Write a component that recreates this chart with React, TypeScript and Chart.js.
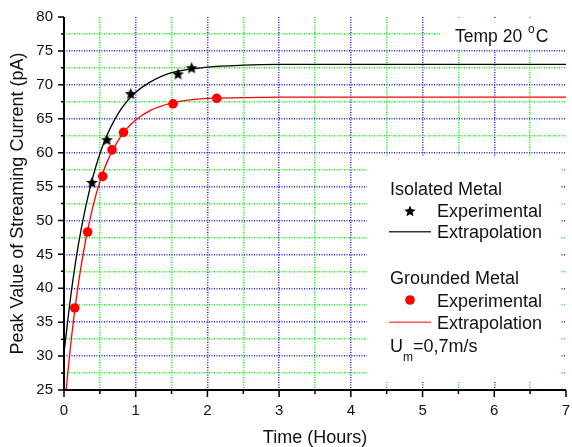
import React, { useEffect, useRef } from "react";
import { Chart, registerables } from "chart.js";

Chart.register(...registerables);

// ---- data ----
const isoTime = [0.39, 0.6, 0.93, 1.59, 1.78];
const isoCurrent = [55.6, 61.9, 68.7, 71.6, 72.5];

const gndTime = [0.15, 0.33, 0.54, 0.67, 0.83, 1.52, 2.13];
const gndCurrent = [37.1, 48.3, 56.5, 60.4, 63.0, 67.2, 68.0];

const isoFitTime = [0, 0.1, 0.2, 0.3, 0.4, 0.5, 0.6, 0.8, 1.0, 1.2, 1.5, 2.0, 2.5, 3, 4, 5, 6, 7];
const isoFitCurrent = [30.5, 39.3, 46.4, 51.9, 56.3, 59.8, 62.6, 66.5, 68.9, 70.4, 71.8, 72.6, 72.9, 73.0, 73.0, 73.0, 73.0, 73.0];

const gndFitTime = [0.03, 0.1, 0.2, 0.3, 0.4, 0.5, 0.6, 0.8, 1.0, 1.2, 1.5, 2.0, 2.5, 3, 4, 5, 6, 7];
const gndFitCurrent = [25.0, 32.3, 40.6, 47.0, 51.9, 55.7, 58.6, 62.5, 64.8, 66.2, 67.3, 68.0, 68.1, 68.2, 68.2, 68.2, 68.2, 68.2];

const xTicks = [0, 0.5, 1, 1.5, 2, 2.5, 3, 3.5, 4, 4.5, 5, 5.5, 6, 6.5, 7];
const yTicks = [25, 27.5, 30, 32.5, 35, 37.5, 40, 42.5, 45, 47.5, 50, 52.5, 55, 57.5, 60, 62.5, 65, 67.5, 70, 72.5, 75, 77.5, 80];

const xTitle = "Time (Hours)";
const yTitle = "Peak Value of Streaming Current (pA)";

// ---- styling ----
const FONT = '"Liberation Sans", Arial, sans-serif';
const TEXT = "#111";
const MAJOR = "#2020ff";
const MINOR = "#00ff00";

function drawStar(ctx: CanvasRenderingContext2D, cx: number, cy: number, r: number) {
  ctx.beginPath();
  for (let i = 0; i < 10; i++) {
    const rad = i % 2 === 0 ? r : r * 0.45;
    const a = -Math.PI / 2 + (i * Math.PI) / 5;
    const px = cx + rad * Math.cos(a);
    const py = cy + rad * Math.sin(a);
    if (i === 0) ctx.moveTo(px, py);
    else ctx.lineTo(px, py);
  }
  ctx.closePath();
  ctx.fill();
}

function makeStar(r: number, color: string): HTMLCanvasElement {
  const size = Math.ceil(r * 2 + 2);
  const c = document.createElement("canvas");
  c.width = size;
  c.height = size;
  const g = c.getContext("2d")!;
  g.fillStyle = color;
  drawStar(g, size / 2, size / 2 + 0.5, r);
  return c;
}

function gridColor(v: number, edgeA: number, edgeB: number, major: number) {
  if (v === edgeA || v === edgeB) return "rgba(0,0,0,0)";
  const r = v / major;
  return Math.abs(r - Math.round(r)) < 1e-6 ? MAJOR : MINOR;
}

const overlay = {
  id: "overlay",
  beforeDatasetsDraw(chart: any) {
    const ctx = chart.ctx as CanvasRenderingContext2D;
    ctx.save();
    ctx.fillStyle = "#ffffff";
    ctx.fillRect(440, 18, 125, 32);
    ctx.fillRect(367, 157, 194, 225);
    ctx.restore();
  },
  afterDraw(chart: any) {
    const ctx = chart.ctx as CanvasRenderingContext2D;
    const { x, y } = chart.scales;
    const area = chart.chartArea;
    ctx.save();
    // axes
    ctx.strokeStyle = "#000";
    ctx.lineWidth = 2;
    ctx.beginPath();
    ctx.moveTo(area.left, area.top);
    ctx.lineTo(area.left, area.bottom);
    ctx.lineTo(area.right, area.bottom);
    ctx.stroke();
    ctx.lineWidth = 1.5;
    ctx.beginPath();
    for (const v of xTicks) {
      const px = x.getPixelForValue(v);
      const len = Number.isInteger(v) ? 7 : 4;
      ctx.moveTo(px, area.bottom);
      ctx.lineTo(px, area.bottom + len);
    }
    for (const v of yTicks) {
      const py = y.getPixelForValue(v);
      const len = v % 5 === 0 ? 6 : 3;
      ctx.moveTo(area.left - len, py);
      ctx.lineTo(area.left, py);
    }
    ctx.stroke();

    // annotations / legend
    ctx.fillStyle = TEXT;
    ctx.textBaseline = "alphabetic";
    ctx.textAlign = "left";
    ctx.font = `17.5px ${FONT}`;
    ctx.fillText("Temp 20", 455, 42);
    let tx = 455 + ctx.measureText("Temp 20").width + 6;
    ctx.font = `12px ${FONT}`;
    ctx.fillText("o", tx, 33);
    tx += ctx.measureText("o").width + 1;
    ctx.font = `17.5px ${FONT}`;
    ctx.fillText("C", tx, 42);

    ctx.font = `18px ${FONT}`;
    ctx.fillText("Isolated Metal", 390, 195);
    ctx.fillText("Experimental", 437, 217);
    ctx.fillText("Extrapolation", 437, 238);
    ctx.fillText("Grounded Metal", 390, 284);
    ctx.fillText("Experimental", 437, 306.5);
    ctx.fillText("Extrapolation", 437, 329);
    ctx.fillText("U", 390, 352);
    const uW = ctx.measureText("U").width;
    ctx.font = `12px ${FONT}`;
    ctx.fillText("m", 390 + uW, 361);
    const mW = ctx.measureText("m").width;
    ctx.font = `18px ${FONT}`;
    ctx.fillText("=0,7m/s", 390 + uW + mW, 352);

    // legend symbols
    ctx.fillStyle = "#000";
    drawStar(ctx, 410, 211.5, 6);
    ctx.strokeStyle = "#333";
    ctx.lineWidth = 1.5;
    ctx.beginPath();
    ctx.moveTo(389, 231.7);
    ctx.lineTo(431, 231.7);
    ctx.stroke();
    ctx.fillStyle = "#ff0000";
    ctx.beginPath();
    ctx.arc(410, 300, 4.8, 0, Math.PI * 2);
    ctx.fill();
    ctx.strokeStyle = "#ff5555";
    ctx.beginPath();
    ctx.moveTo(389, 322.3);
    ctx.lineTo(431, 322.3);
    ctx.stroke();
    ctx.restore();
  },
};

export default function App() {
  const ref = useRef<HTMLCanvasElement | null>(null);

  useEffect(() => {
    if (!ref.current) return;
    const star = makeStar(6.2, "#000");
    const toXY = (xs: number[], ys: number[]) => xs.map((v, i) => ({ x: v, y: ys[i] }));

    const chart = new Chart(ref.current, {
      type: "scatter",
      data: {
        datasets: [
          {
            label: "Isolated Metal Experimental",
            data: toXY(isoTime, isoCurrent),
            pointStyle: star as any,
            pointRadius: 6,
            backgroundColor: "#000",
            borderWidth: 0,
            showLine: false,
          },
          {
            label: "Grounded Metal Experimental",
            data: toXY(gndTime, gndCurrent),
            pointStyle: "circle",
            pointRadius: 4.8,
            backgroundColor: "#ff0000",
            borderColor: "#ff0000",
            borderWidth: 0,
            showLine: false,
          },
          {
            label: "Isolated Metal Extrapolation",
            data: toXY(isoFitTime, isoFitCurrent),
            showLine: true,
            pointRadius: 0,
            borderColor: "#000",
            borderWidth: 1.3,
            cubicInterpolationMode: "monotone",
          },
          {
            label: "Grounded Metal Extrapolation",
            data: toXY(gndFitTime, gndFitCurrent),
            showLine: true,
            pointRadius: 0,
            borderColor: "#ff0000",
            borderWidth: 1.3,
            cubicInterpolationMode: "monotone",
          },
        ],
      },
      options: {
        responsive: false,
        animation: false,
        events: [],
        layout: { padding: { top: 17, right: 4, left: 0, bottom: 0 } },
        plugins: { legend: { display: false }, tooltip: { enabled: false } },
        scales: {
          x: {
            type: "linear",
            min: 0,
            max: 7,
            afterBuildTicks: (s: any) => {
              s.ticks = xTicks.map((v) => ({ value: v }));
            },
            afterFit: (s: any) => {
              s.height = 57;
              s.paddingRight = 0;
              s.paddingLeft = 0;
            },
            ticks: {
              autoSkip: false,
              maxRotation: 0,
              padding: 12,
              color: TEXT,
              font: { family: FONT, size: 15 },
              callback: (v: any) => (Number.isInteger(v) ? String(v) : ""),
            },
            grid: {
              drawTicks: false,
              lineWidth: 1.5,
              color: (c: any) => gridColor(c.tick ? c.tick.value : -1, 0, 7, 1),
            },
            border: { display: false, dash: [1, 1.5] },
            title: {
              display: true,
              text: xTitle,
              color: TEXT,
              font: { family: FONT, size: 18 },
              padding: { top: 0, bottom: -2 },
            },
          },
          y: {
            type: "linear",
            min: 25,
            max: 80,
            afterBuildTicks: (s: any) => {
              s.ticks = yTicks.map((v) => ({ value: v }));
            },
            afterFit: (s: any) => {
              s.width = 64;
              s.paddingTop = 0;
              s.paddingBottom = 0;
            },
            ticks: {
              autoSkip: false,
              padding: 11,
              color: TEXT,
              font: { family: FONT, size: 15 },
              callback: (v: any) => (v % 5 === 0 ? String(v) : ""),
            },
            grid: {
              drawTicks: false,
              lineWidth: 1.5,
              color: (c: any) => gridColor(c.tick ? c.tick.value : -1, 25, 80, 5),
            },
            border: { display: false, dash: [1, 1.5] },
            title: {
              display: true,
              text: yTitle,
              color: TEXT,
              font: { family: FONT, size: 18 },
              padding: { top: 7, bottom: 0 },
            },
          },
        },
      },
      plugins: [overlay],
    });
    return () => chart.destroy();
  }, []);

  return (
    <div style={{ position: "fixed", left: 0, top: 0, width: 572, height: 447, background: "#fff" }}>
      <canvas ref={ref} width={572} height={447} style={{ display: "block" }} />
    </div>
  );
}
